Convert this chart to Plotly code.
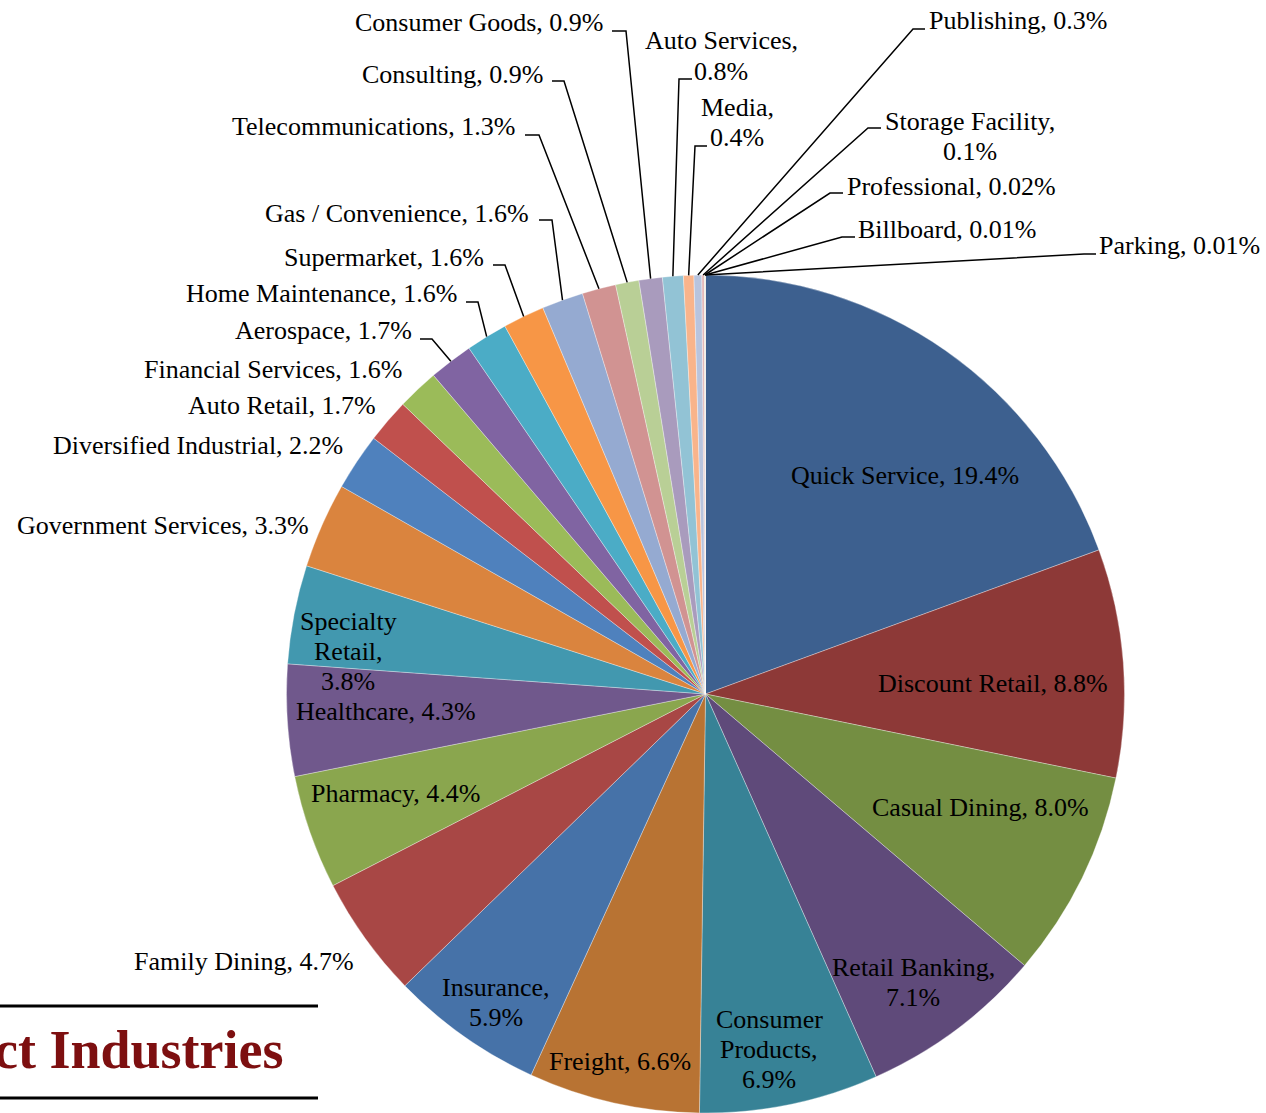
import math
import plotly.graph_objects as go

# ---- data -------------------------------------------------------------
industries = [
    "Quick Service", "Discount Retail", "Casual Dining", "Retail Banking",
    "Consumer Products", "Freight", "Insurance", "Family Dining", "Pharmacy",
    "Healthcare", "Specialty Retail", "Government Services",
    "Diversified Industrial", "Auto Retail", "Financial Services", "Aerospace",
    "Home Maintenance", "Supermarket", "Gas / Convenience", "Telecommunications",
    "Consulting", "Consumer Goods", "Auto Services", "Media", "Publishing",
    "Storage Facility", "Professional", "Billboard", "Parking",
]
shares = [
    19.4, 8.8, 8.0, 7.1, 6.9, 6.6, 5.9, 4.7, 4.4, 4.3, 3.8, 3.3,
    2.2, 1.7, 1.6, 1.7, 1.6, 1.6, 1.6, 1.3, 0.9, 0.9, 0.8, 0.4, 0.3,
    0.1, 0.02, 0.01, 0.01,
]

# ---- styling ----------------------------------------------------------
slice_colors = [
    "#3D608F", "#8D3937", "#748E42", "#5F4A7A", "#378296", "#B87333",
    "#4672A8", "#A84745", "#8AA64E", "#70588C", "#4298AF", "#DA843E",
    "#4F81BD", "#C0504D", "#9BBB59", "#8064A2", "#4BACC6", "#F79646",
    "#95AAD1", "#D19392", "#B9CF96", "#A99BBD", "#92C3D5", "#F9B48B",
    "#B8C4DE", "#E4B9B9", "#C9D6A8", "#C2B6D3", "#F5C9A4",
]

W, H = 1266, 1113
CX, CY, R = 705.5, 694.0, 419.0          # pie centre / radius in pixels
FONT = "Liberation Serif, Times New Roman, serif"
FS = 26
LINE_H = 30

# label placement: centre of first text line (px) and wrap mode
# wrap 0: one line, 1: "name," / value, 2: one word per line then value
label_layout = [
    (905, 475, 0), (993, 683, 0), (980, 807, 0), (913, 967, 1),
    (769, 1019, 2), (620, 1061, 0), (496, 987, 1), (244, 961, 0),
    (395, 793, 0), (386, 711, 0), (348, 621, 2), (163, 525, 0),
    (198, 445, 0), (282, 405, 0), (273, 369, 0), (323, 331, 0),
    (321, 293, 0), (384, 257, 0), (397, 213, 0), (373, 127, 0),
    (452, 75, 0), (479, 22, 0), (721, 41, 1), (737, 107, 1),
    (1018, 21, 0), (970, 121, 1), (951, 187, 0), (947, 229, 0),
    (1179, 246, 0),
]

# leader lines: slice index -> (knee x, knee y, stub end x near the text)
leaders = {
    15: (432, 339, 420), 16: (478, 302, 466), 17: (505, 265, 493),
    18: (552, 220, 539), 19: (539, 135, 525), 20: (564, 81, 552),
    21: (626, 31, 612), 22: (679, 79, 692), 23: (695, 146, 707),
    24: (913, 29, 925), 25: (868, 128, 881), 26: (830, 193, 843),
    27: (842, 237, 855), 28: (1084, 254, 1096),
}


def fmt(v):
    return f"{v:.2f}%" if v < 0.1 else f"{v:.1f}%"


def px(x):
    return x / W


def py(y):
    return 1 - y / H


fig = go.Figure(
    go.Pie(
        labels=industries,
        values=shares,
        sort=False,
        direction="clockwise",
        rotation=0,
        textinfo="none",
        hoverinfo="label+percent",
        marker=dict(colors=slice_colors,
                    line=dict(color="rgba(255,255,255,0.55)", width=0.6)),
        domain=dict(x=[px(CX - R), px(CX + R)], y=[0, py(CY - R)]),
        showlegend=False,
    )
)

annotations = []
shapes = []
total = sum(shares)
cum = 0.0
for i, (name, v) in enumerate(zip(industries, shares)):
    mid = (cum + v / 2) / total
    cum += v
    lx, ly, wrap = label_layout[i]
    if wrap == 0:
        lines = [f"{name}, {fmt(v)}"]
    elif wrap == 1:
        lines = [f"{name},", fmt(v)]
    else:
        words = name.split()
        lines = words[:-1] + [words[-1] + ",", fmt(v)]
    for k, t in enumerate(lines):
        annotations.append(dict(
            x=px(lx), y=py(ly + k * LINE_H), xref="paper", yref="paper",
            text=t, showarrow=False, xanchor="center", yanchor="middle",
            font=dict(family=FONT, size=FS, color="black"),
        ))
    if i in leaders:
        kx, ky, sx = leaders[i]
        a = mid * 2 * math.pi
        ex = CX + R * math.sin(a)
        ey = CY - R * math.cos(a)
        path = (f"M {px(sx)} {py(ky)} L {px(kx)} {py(ky)} "
                f"L {px(ex)} {py(ey)}")
        shapes.append(dict(type="path", path=path, xref="paper",
                           yref="paper", line=dict(color="black", width=1.5)))

# heading block in the lower left corner
for yy in (1006, 1098):
    shapes.append(dict(type="line", xref="paper", yref="paper",
                       x0=0, x1=px(318), y0=py(yy), y1=py(yy),
                       line=dict(color="black", width=3)))
annotations.append(dict(
    x=px(286), y=py(1050), xref="paper", yref="paper",
    text="<b>ct Industries</b>", showarrow=False,
    xanchor="right", yanchor="middle",
    font=dict(family=FONT, size=54, color="#7D0F10"),
))

fig.update_layout(
    width=W, height=H, autosize=False,
    margin=dict(l=0, r=0, t=0, b=0),
    paper_bgcolor="white", plot_bgcolor="white",
    annotations=annotations, shapes=shapes,
)

fig.write_html("out.html")
